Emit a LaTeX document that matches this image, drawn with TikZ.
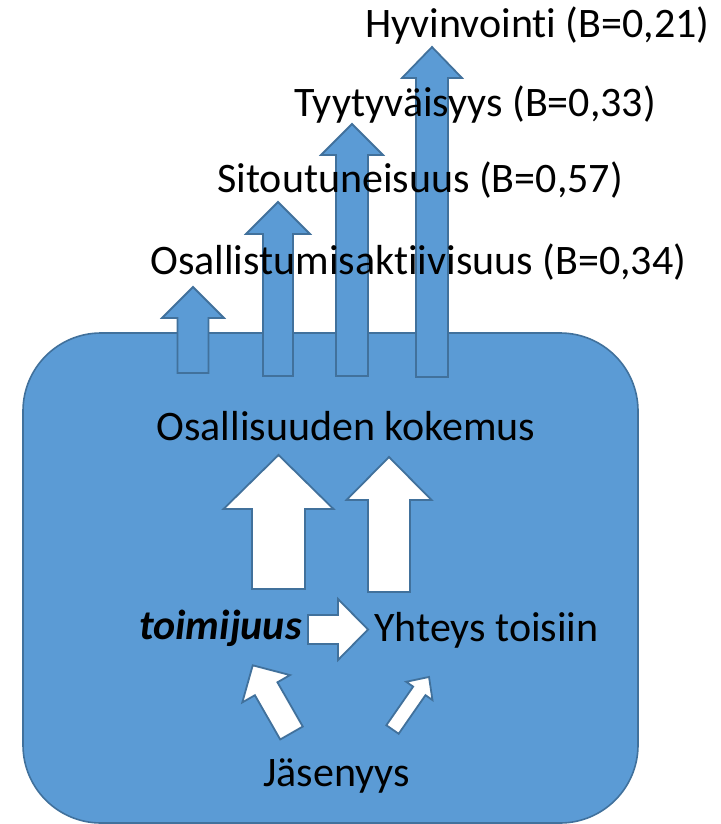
\documentclass[tikz,border=0pt]{standalone}
\usepackage{fontspec}
\setmainfont{Carlito}[RawFeature={-liga;-clig;-dlig}]
\definecolor{boxblue}{HTML}{5B9BD5}
\definecolor{edgeblue}{HTML}{41719C}
\tikzset{
  lbl/.style={inner sep=0pt, anchor=base west, font=\fontsize{21}{25}\selectfont},
  bluearr/.style={fill=boxblue, draw=edgeblue, line width=0.9pt, line join=miter},
  whitearr/.style={fill=white, draw=edgeblue, line width=0.9pt, line join=miter},
}
% block arrow: style, base point, angle, length, half shaft, half head, head length
\newcommand{\blkarrow}[7]{%
  \draw[#1, shift={#2}, rotate=#3] (0,-#5) -- ({#4-#7},-#5) -- ({#4-#7},-#6) -- (#4,0)
    -- ({#4-#7},#6) -- ({#4-#7},#5) -- (0,#5) -- cycle;}
\begin{document}
\begin{tikzpicture}[x=0.5pt, y=-0.5pt]
    \useasboundingbox (0,0) rectangle (720,824);
    \draw[fill=boxblue, draw=edgeblue, line width=0.8pt, rounded corners=39pt] (23,333) rectangle (638,823);
    % outcome arrows
    \blkarrow{bluearr}{(193,373)}{90}{86}{15.5}{31}{31}
    \blkarrow{bluearr}{(278,376)}{90}{174}{15}{32}{32}
    \blkarrow{bluearr}{(352,376)}{90}{252}{16}{31}{31}
    \blkarrow{bluearr}{(432,377)}{90}{330}{16}{30}{31}
    % inner arrows
    \blkarrow{whitearr}{(278.5,589)}{90}{134}{26.5}{55}{54}
    \blkarrow{whitearr}{(389,592)}{90}{135}{21}{42.5}{43}
    \blkarrow{whitearr}{(308,629.5)}{0}{60}{14.5}{30.5}{30}
    \blkarrow{whitearr}{(291.5,733)}{119.8}{78}{13}{27.5}{27}
    \blkarrow{whitearr}{(392.5,729.5)}{55.2}{64}{7.5}{16}{17}
    % texts
    \node[lbl] (hyv) at (365,38) {Hyvinvointi (B=0,21)};
    \node[lbl] (tyy) at (294,117) {Tyytyväisyys (B=0,33)};
    \node[lbl] (sit) at (217,192) {Sitoutuneisuus (B=0,57)};
    \node[lbl] (osa) at (150,274) {Osallistumisaktiivisuus (B=0,34)};
    \node[lbl, anchor=base] (oke) at (346,440) {Osallisuuden kokemus};
    \node[lbl] (toi) at (139,639) {\bfseries\itshape toimijuus};
    \node[lbl] (yht) at (374,641) {Yhteys toisiin};
    \node[lbl] (jas) at (263,786) {Jäsenyys};
\end{tikzpicture}
\end{document}
